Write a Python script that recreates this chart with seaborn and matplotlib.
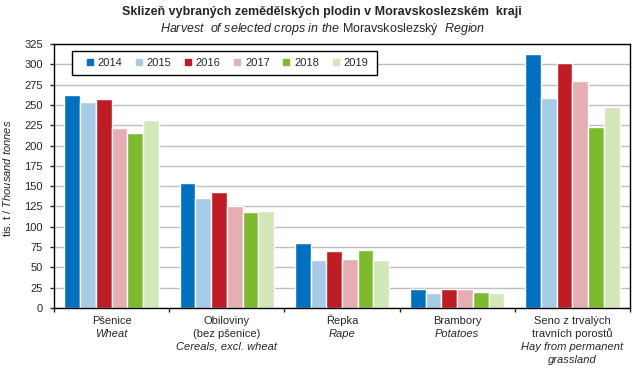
import seaborn as sns
import matplotlib.pyplot as plt
import pandas as pd
from matplotlib.lines import Line2D
from matplotlib.patches import Rectangle

# values (tis. t)
years = ['2014', '2015', '2016', '2017', '2018', '2019']
crops = ['Pšenice', 'Obiloviny', 'Řepka', 'Brambory', 'Seno']
wheat = [262, 253, 257, 221, 216, 232]
cereals = [154, 136, 143, 125, 118, 119]
rape = [80, 59, 70, 60, 71, 59]
potatoes = [23, 18, 24, 23, 20, 19]
hay = [313, 258, 302, 280, 223, 247]

labels_cz = [['Pšenice'], ['Obiloviny', '(bez pšenice)'], ['Řepka'], ['Brambory'],
             ['Seno z trvalých', 'travních porostů']]
labels_en = [['Wheat'], ['Cereals, excl. wheat'], ['Rape'], ['Potatoes'],
             ['Hay from permanent', 'grassland']]
colors = ['#0070C0', '#A6CBE6', '#C01C24', '#E6AEB2', '#7CBA2E', '#D3E8B9']

rows = []
for crop, vals in zip(crops, [wheat, cereals, rape, potatoes, hay]):
    for yr, v in zip(years, vals):
        rows.append({'crop': crop, 'year': yr, 'value': v})
df = pd.DataFrame(rows)

sns.set_style('white')
plt.rcParams['font.family'] = ['Liberation Sans', 'DejaVu Sans']
plt.rcParams['mathtext.fontset'] = 'custom'
plt.rcParams['mathtext.rm'] = 'Liberation Sans'
plt.rcParams['mathtext.it'] = 'Liberation Sans:italic'

W, H = 643, 371
fig = plt.figure(figsize=(W / 100, H / 100), dpi=100)
ax = fig.add_axes([54 / W, 63 / H, 576 / W, 264 / H])

sns.barplot(data=df, x='crop', y='value', hue='year', palette=colors,
            width=0.82, saturation=1, legend=False, ax=ax)

ax.set_ylim(0, 325)
ax.set_xlim(-0.5, 4.5)
ax.set_yticks(range(0, 326, 25))
ax.yaxis.grid(True, color='#BEBEBE', lw=1)
ax.set_axisbelow(True)
for s in ax.spines.values():
    s.set_color('black')
    s.set_linewidth(1)

ax.tick_params(axis='y', direction='out', length=3, width=1, labelsize=8, pad=5, left=True)
ax.set_xticks(range(5))
ax.set_xticklabels([])
ax.tick_params(axis='x', which='major', length=0)
ax.set_xticks([i - 0.5 for i in range(6)], minor=True)
ax.tick_params(axis='x', which='minor', direction='out', length=3, width=1, bottom=True)
ax.set_xlabel('')
ax.set_ylabel(r'tis. t / $\it{Thousand\ tonnes}$', fontsize=8)
ax.yaxis.set_label_coords((13 - 54) / 576, 0.49)

# category labels: czech normal, english italic
for i in range(5):
    lines = [(t, 'normal') for t in labels_cz[i]] + [(t, 'italic') for t in labels_en[i]]
    for k, (t, st) in enumerate(lines):
        ax.annotate(t, xy=(i, 0), xycoords=('data', 'axes fraction'),
                    xytext=(0, -9 - k * 9.4), textcoords='offset points',
                    ha='center', va='center', fontsize=8, style=st)

# legend with box
ax.add_patch(Rectangle((18 / 576, 233 / 264), 305 / 576, 24 / 264, transform=ax.transAxes,
                       fill=True, facecolor='white', edgecolor='black', lw=1, zorder=5))
handles = [Line2D([], [], ls='none', marker='s', markersize=4, color=c) for c in colors]
leg = ax.legend(handles, years, loc='center left', bbox_to_anchor=(31.5 / 576, 245 / 264),
                ncol=6, frameon=False, fontsize=8, borderpad=0, borderaxespad=0,
                handlelength=0.8, handletextpad=0.29, columnspacing=1.1)
leg.set_zorder(6)

fig.text(322 / W, 1 - 12 / H, 'Sklizeň vybraných zemědělských plodin v Moravskoslezském  kraji',
         ha='center', va='center', fontsize=9, weight='bold')
fig.text(323 / W, 1 - 29 / H,
         r'$\it{Harvest\ \ of\ selected\ crops\ in\ the}$ Moravskoslezský  $\it{Region}$',
         ha='center', va='center', fontsize=9)

plt.savefig('out.png', dpi=100)
